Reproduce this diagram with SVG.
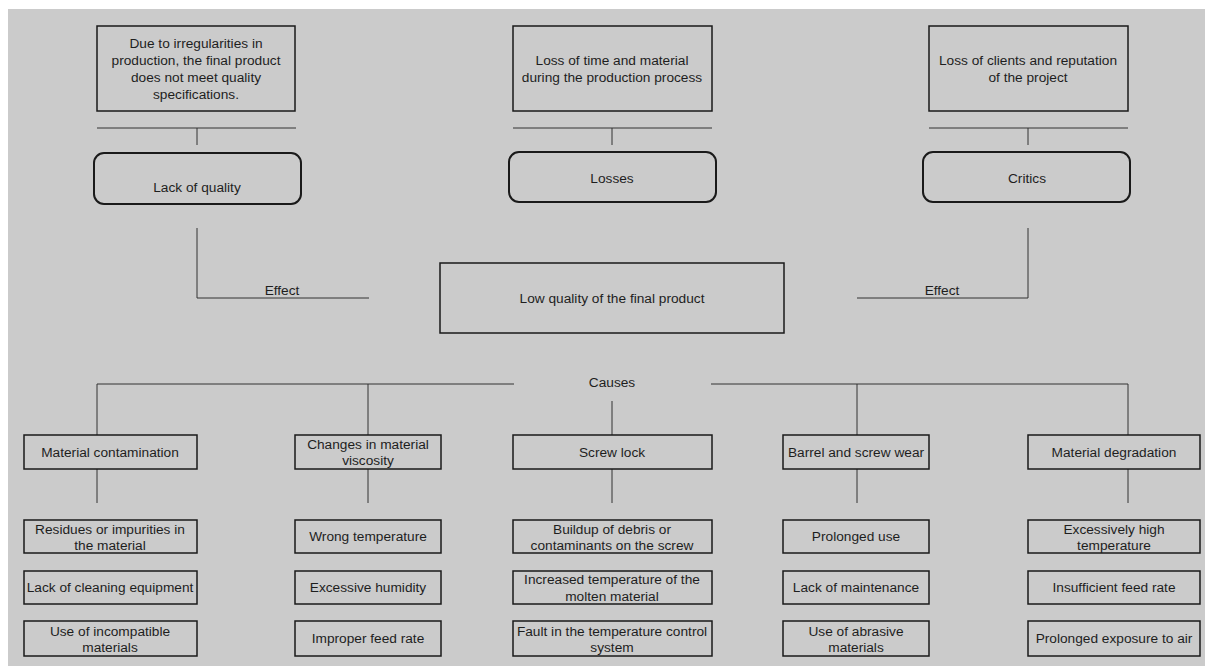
<svg xmlns="http://www.w3.org/2000/svg" width="1205" height="666" viewBox="0 0 1205 666">
<style>
text{font-family:"Liberation Sans",Arial,sans-serif;font-size:13.7px;fill:#1e1e1e;text-anchor:middle}
.box{fill:none;stroke:#1a1a1a;stroke-width:1.5}
.rbox{fill:none;stroke:#1a1a1a;stroke-width:2}
.ln{fill:none;stroke:#333;stroke-width:1}
</style>
<rect x="0" y="0" width="1205" height="666" fill="#ffffff"/>
<rect x="8" y="9" width="1197" height="657" fill="#cbcbcb"/>

<g id="connectors">
<path class="ln" d="M97 128H296M197 128V145"/>
<path class="ln" d="M513 128H712M612 128V145"/>
<path class="ln" d="M929 128H1128M1028 128V145"/>
<path class="ln" d="M197 228V298H369"/>
<path class="ln" d="M1028 228V298H857"/>
<path class="ln" d="M97 435V384H514M711 384H1128V435M368 384V435M857 384V435M612 401V435"/>
<path class="ln" d="M97 469V503M368 469V503M612 469V503M857 469V503M1128 469V503"/>
<text x="282" y="295">Effect</text>
<text x="942" y="295">Effect</text>
<text x="612" y="387">Causes</text>
</g>

<g id="effect1"><rect class="box" x="97" y="26" width="198" height="85"/>
<text x="196" y="47.5">Due to irregularities in</text><text x="196" y="64.5">production, the final product</text><text x="196" y="81.5">does not meet quality</text><text x="196" y="98.5">specifications.</text></g>
<g id="effect2"><rect class="box" x="513" y="26" width="199" height="85"/>
<text x="612" y="65">Loss of time and material</text><text x="612" y="82">during the production process</text></g>
<g id="effect3"><rect class="box" x="929" y="26" width="199" height="85"/>
<text x="1028" y="65">Loss of clients and reputation</text><text x="1028" y="82">of the project</text></g>

<g id="lack-of-quality"><rect class="rbox" x="94" y="153" width="207" height="51" rx="10"/><text x="197" y="191.5">Lack of quality</text></g>
<g id="losses"><rect class="rbox" x="509" y="152" width="207" height="50" rx="10"/><text x="612" y="182.5">Losses</text></g>
<g id="critics"><rect class="rbox" x="923" y="152" width="207" height="50" rx="10"/><text x="1027" y="182.5">Critics</text></g>

<g id="central"><rect class="box" x="440" y="263" width="344" height="70"/><text x="612" y="302.5">Low quality of the final product</text></g>

<g id="cause1"><rect class="box" x="24" y="435" width="173" height="34"/><text x="110" y="456.5">Material contamination</text></g>
<g id="cause2"><rect class="box" x="295" y="435" width="146" height="34"/><text x="368" y="448.5">Changes in material</text><text x="368" y="464.5">viscosity</text></g>
<g id="cause3"><rect class="box" x="513" y="435" width="199" height="34"/><text x="612" y="456.5">Screw lock</text></g>
<g id="cause4"><rect class="box" x="783" y="435" width="146" height="34"/><text x="856" y="456.5">Barrel and screw wear</text></g>
<g id="cause5"><rect class="box" x="1028" y="435" width="172" height="34"/><text x="1114" y="456.5">Material degradation</text></g>

<g id="c1s1"><rect class="box" x="24" y="520" width="173" height="33"/><text x="110" y="533.5">Residues or impurities in</text><text x="110" y="550">the material</text></g>
<g id="c1s2"><rect class="box" x="24" y="571" width="173" height="33"/><text x="110" y="592">Lack of cleaning equipment</text></g>
<g id="c1s3"><rect class="box" x="24" y="621" width="173" height="35"/><text x="110" y="635.5">Use of incompatible</text><text x="110" y="652">materials</text></g>

<g id="c2s1"><rect class="box" x="295" y="520" width="146" height="33"/><text x="368" y="541">Wrong temperature</text></g>
<g id="c2s2"><rect class="box" x="295" y="571" width="146" height="33"/><text x="368" y="592">Excessive humidity</text></g>
<g id="c2s3"><rect class="box" x="295" y="621" width="146" height="35"/><text x="368" y="643">Improper feed rate</text></g>

<g id="c3s1"><rect class="box" x="513" y="520" width="199" height="33"/><text x="612" y="533.5">Buildup of debris or</text><text x="612" y="550">contaminants on the screw</text></g>
<g id="c3s2"><rect class="box" x="513" y="571" width="199" height="33"/><text x="612" y="584">Increased temperature of the</text><text x="612" y="600.5">molten material</text></g>
<g id="c3s3"><rect class="box" x="513" y="621" width="199" height="35"/><text x="612" y="635.5">Fault in the temperature control</text><text x="612" y="652">system</text></g>

<g id="c4s1"><rect class="box" x="783" y="520" width="146" height="33"/><text x="856" y="541">Prolonged use</text></g>
<g id="c4s2"><rect class="box" x="783" y="571" width="146" height="33"/><text x="856" y="592">Lack of maintenance</text></g>
<g id="c4s3"><rect class="box" x="783" y="621" width="146" height="35"/><text x="856" y="635.5">Use of abrasive</text><text x="856" y="652">materials</text></g>

<g id="c5s1"><rect class="box" x="1028" y="520" width="172" height="33"/><text x="1114" y="533.5">Excessively high</text><text x="1114" y="550">temperature</text></g>
<g id="c5s2"><rect class="box" x="1028" y="571" width="172" height="33"/><text x="1114" y="592">Insufficient feed rate</text></g>
<g id="c5s3"><rect class="box" x="1028" y="621" width="172" height="35"/><text x="1114" y="643">Prolonged exposure to air</text></g>
</svg>
